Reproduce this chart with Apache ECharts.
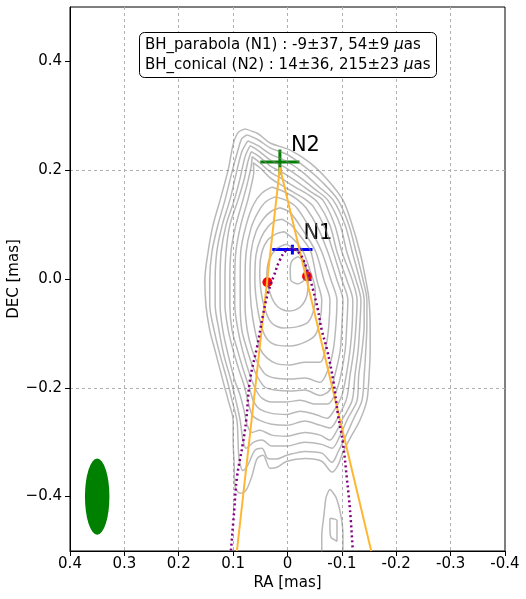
<!DOCTYPE html>
<html><head><meta charset="utf-8">
<script src="https://cdn.jsdelivr.net/npm/echarts@6/dist/echarts.min.js"></script>
<style>html,body{margin:0;padding:0;background:#fff}#c{width:526px;height:599px}</style>
</head><body><div id="c"></div>
<script>
// ---- tick labels ----
const xTicks = [0.4, 0.3, 0.2, 0.1, 0, -0.1, -0.2, -0.3, -0.4];
const yTicks = [-0.4, -0.2, 0, 0.2, 0.4];

// ---- intensity contours [RA, DEC] (mas), outer -> inner ----
const c0 = [[0.078,0.276],[0.054,0.267],[0.032,0.250],[-0.005,0.237],[-0.041,0.214],[-0.074,0.182],[-0.102,0.145],[-0.119,0.099],[-0.133,0.050],[-0.144,-0.002],[-0.150,-0.039],[-0.152,-0.094],[-0.152,-0.131],[-0.150,-0.177],[-0.146,-0.223],[-0.133,-0.260],[-0.115,-0.293],[-0.102,-0.318],[-0.093,-0.342],[-0.082,-0.355],[-0.063,-0.335],[-0.032,-0.330],[0.001,-0.335],[0.019,-0.346],[0.032,-0.348],[0.045,-0.324],[0.056,-0.330],[0.065,-0.361],[0.076,-0.388],[0.087,-0.394],[0.097,-0.379],[0.098,-0.342],[0.100,-0.296],[0.100,-0.260],[0.109,-0.223],[0.119,-0.186],[0.131,-0.140],[0.143,-0.094],[0.150,-0.048],[0.152,-0.002],[0.146,0.050],[0.137,0.099],[0.124,0.145],[0.109,0.201],[0.100,0.247],[0.091,0.269]];
const c1 = [[0.074,0.265],[0.054,0.256],[0.032,0.241],[-0.001,0.228],[-0.032,0.206],[-0.065,0.177],[-0.093,0.145],[-0.113,0.099],[-0.126,0.050],[-0.139,-0.002],[-0.146,-0.039],[-0.146,-0.085],[-0.144,-0.131],[-0.141,-0.177],[-0.137,-0.223],[-0.122,-0.256],[-0.108,-0.287],[-0.093,-0.318],[-0.082,-0.337],[-0.063,-0.320],[-0.032,-0.317],[0.001,-0.324],[0.021,-0.331],[0.036,-0.330],[0.047,-0.311],[0.060,-0.315],[0.073,-0.342],[0.082,-0.352],[0.089,-0.330],[0.091,-0.296],[0.093,-0.260],[0.102,-0.223],[0.111,-0.186],[0.124,-0.140],[0.135,-0.094],[0.143,-0.048],[0.143,-0.002],[0.139,0.050],[0.128,0.099],[0.115,0.145],[0.102,0.197],[0.091,0.237],[0.084,0.258]];
const c2 = [[0.073,0.254],[0.054,0.245],[0.032,0.230],[0.003,0.217],[-0.027,0.197],[-0.056,0.171],[-0.084,0.145],[-0.106,0.099],[-0.119,0.050],[-0.133,-0.002],[-0.141,-0.039],[-0.141,-0.085],[-0.137,-0.131],[-0.131,-0.177],[-0.128,-0.223],[-0.111,-0.256],[-0.097,-0.287],[-0.082,-0.311],[-0.063,-0.304],[-0.032,-0.300],[0.001,-0.307],[0.029,-0.307],[0.047,-0.296],[0.062,-0.300],[0.076,-0.311],[0.082,-0.296],[0.087,-0.260],[0.095,-0.223],[0.104,-0.186],[0.117,-0.140],[0.126,-0.094],[0.133,-0.048],[0.133,-0.002],[0.130,0.050],[0.120,0.099],[0.106,0.145],[0.095,0.191],[0.084,0.234]];
const c3 = [[0.069,0.245],[0.054,0.236],[0.032,0.219],[0.006,0.206],[-0.021,0.188],[-0.049,0.166],[-0.074,0.145],[-0.097,0.099],[-0.109,0.050],[-0.126,-0.002],[-0.135,-0.039],[-0.133,-0.085],[-0.130,-0.131],[-0.124,-0.177],[-0.119,-0.223],[-0.102,-0.256],[-0.089,-0.282],[-0.078,-0.296],[-0.060,-0.287],[-0.032,-0.282],[0.001,-0.289],[0.029,-0.287],[0.051,-0.278],[0.065,-0.282],[0.074,-0.269],[0.080,-0.241],[0.087,-0.214],[0.097,-0.186],[0.109,-0.140],[0.119,-0.094],[0.124,-0.048],[0.124,-0.002],[0.122,0.050],[0.113,0.099],[0.098,0.145],[0.087,0.186],[0.078,0.225]];
const c4 = [[0.067,0.234],[0.052,0.225],[0.032,0.208],[0.008,0.195],[-0.017,0.179],[-0.043,0.160],[-0.065,0.145],[-0.087,0.099],[-0.100,0.050],[-0.119,-0.002],[-0.128,-0.039],[-0.126,-0.085],[-0.122,-0.131],[-0.115,-0.177],[-0.109,-0.219],[-0.095,-0.250],[-0.078,-0.274],[-0.060,-0.269],[-0.032,-0.261],[0.001,-0.269],[0.029,-0.267],[0.051,-0.260],[0.065,-0.250],[0.073,-0.223],[0.080,-0.195],[0.089,-0.168],[0.100,-0.131],[0.109,-0.094],[0.115,-0.048],[0.115,-0.002],[0.113,0.050],[0.106,0.099],[0.091,0.145],[0.080,0.182],[0.073,0.215]];
const c5 = [[0.065,0.225],[0.051,0.214],[0.032,0.197],[0.010,0.184],[-0.014,0.169],[-0.038,0.155],[-0.056,0.140],[-0.078,0.099],[-0.091,0.050],[-0.109,-0.002],[-0.120,-0.039],[-0.119,-0.085],[-0.115,-0.131],[-0.108,-0.177],[-0.100,-0.214],[-0.086,-0.241],[-0.073,-0.256],[-0.051,-0.249],[-0.023,-0.243],[0.001,-0.249],[0.029,-0.247],[0.051,-0.239],[0.062,-0.226],[0.069,-0.204],[0.080,-0.171],[0.091,-0.134],[0.102,-0.094],[0.106,-0.048],[0.106,-0.002],[0.104,0.050],[0.095,0.099],[0.082,0.145],[0.073,0.179],[0.067,0.206]];
const c6 = [[0.063,0.214],[0.049,0.203],[0.032,0.186],[0.012,0.173],[-0.010,0.160],[-0.032,0.147],[-0.047,0.134],[-0.069,0.094],[-0.084,0.050],[-0.100,-0.002],[-0.111,-0.039],[-0.109,-0.085],[-0.106,-0.131],[-0.098,-0.177],[-0.089,-0.208],[-0.074,-0.230],[-0.052,-0.230],[-0.023,-0.223],[0.001,-0.226],[0.029,-0.226],[0.047,-0.219],[0.058,-0.204],[0.069,-0.177],[0.082,-0.134],[0.091,-0.094],[0.097,-0.048],[0.097,-0.002],[0.095,0.050],[0.086,0.099],[0.073,0.145],[0.065,0.179],[0.062,0.197]];
const c7 = [[0.029,0.169],[0.005,0.160],[-0.017,0.147],[-0.034,0.131],[-0.056,0.094],[-0.074,0.050],[-0.091,-0.002],[-0.102,-0.039],[-0.100,-0.085],[-0.097,-0.131],[-0.087,-0.177],[-0.078,-0.204],[-0.060,-0.214],[-0.032,-0.204],[-0.005,-0.206],[0.023,-0.204],[0.041,-0.199],[0.054,-0.182],[0.065,-0.158],[0.074,-0.131],[0.084,-0.094],[0.087,-0.048],[0.087,-0.002],[0.086,0.050],[0.076,0.099],[0.063,0.136],[0.047,0.158]];
const c8 = [[0.023,0.151],[0.001,0.144],[-0.017,0.131],[-0.043,0.090],[-0.063,0.050],[-0.080,-0.002],[-0.091,-0.039],[-0.089,-0.085],[-0.084,-0.131],[-0.074,-0.168],[-0.060,-0.190],[-0.032,-0.182],[-0.005,-0.184],[0.023,-0.182],[0.041,-0.175],[0.054,-0.156],[0.065,-0.131],[0.074,-0.094],[0.078,-0.048],[0.078,-0.002],[0.076,0.050],[0.067,0.094],[0.054,0.123],[0.040,0.142]];
const c9 = [[0.014,0.131],[-0.005,0.122],[-0.030,0.087],[-0.052,0.050],[-0.067,-0.002],[-0.078,-0.039],[-0.076,-0.085],[-0.071,-0.122],[-0.060,-0.153],[-0.032,-0.153],[-0.005,-0.158],[0.019,-0.156],[0.038,-0.145],[0.051,-0.127],[0.060,-0.094],[0.067,-0.048],[0.069,-0.002],[0.067,0.050],[0.058,0.087],[0.043,0.112],[0.029,0.125]];
const c10 = [[0.010,0.110],[-0.008,0.098],[-0.029,0.072],[-0.043,0.050],[-0.054,-0.002],[-0.063,-0.039],[-0.060,-0.075],[-0.051,-0.103],[-0.032,-0.116],[-0.005,-0.123],[0.017,-0.122],[0.036,-0.112],[0.047,-0.090],[0.056,-0.048],[0.060,-0.002],[0.058,0.044],[0.049,0.075],[0.036,0.096],[0.023,0.107]];
const c11 = [[0.006,0.087],[-0.012,0.072],[-0.029,0.050],[-0.041,0.017],[-0.051,-0.020],[-0.049,-0.053],[-0.038,-0.079],[-0.017,-0.088],[0.008,-0.090],[0.029,-0.081],[0.041,-0.057],[0.049,-0.020],[0.051,0.017],[0.047,0.050],[0.036,0.072],[0.021,0.083]];
const c12 = [[0.003,0.064],[-0.016,0.053],[-0.030,0.031],[-0.038,0.002],[-0.036,-0.029],[-0.023,-0.052],[-0.001,-0.059],[0.019,-0.050],[0.032,-0.026],[0.038,0.007],[0.034,0.035],[0.021,0.055]];
const c13 = [[-0.019,0.041],[-0.030,0.033],[-0.034,0.017],[-0.032,0.000],[-0.019,-0.009],[-0.006,-0.002],[-0.005,0.017],[-0.008,0.033]];
const contours = [c0, c1, c2, c3, c4, c5, c6, c7, c8, c9, c10, c11, c12, c13];
const islandOuter = [[-0.063,-0.503],[-0.063,-0.471],[-0.067,-0.434],[-0.071,-0.401],[-0.078,-0.387],[-0.089,-0.401],[-0.098,-0.434],[-0.102,-0.471],[-0.102,-0.503]];
const islandInner = [[-0.078,-0.440],[-0.091,-0.444],[-0.091,-0.482],[-0.080,-0.475],[-0.078,-0.457]];

// ---- jet-shape fits ----
const parabola = [[0.104,-0.499],[0.098,-0.425],[0.093,-0.365],[0.082,-0.302],[0.076,-0.260],[0.069,-0.186],[0.056,-0.125],[0.045,-0.066],[0.036,-0.026],[0.025,0.006],[0.014,0.035],[0.003,0.052],[-0.006,0.055],[-0.023,0.046],[-0.036,0.017],[-0.047,-0.020],[-0.056,-0.057],[-0.063,-0.094],[-0.073,-0.131],[-0.084,-0.186],[-0.093,-0.250],[-0.102,-0.302],[-0.109,-0.365],[-0.115,-0.425],[-0.120,-0.499]];
const coneLeft = [[0.014,0.205],[0.093,-0.5]];
const coneRight = [[0.014,0.205],[-0.154,-0.5]];
const redDots = [[0.037,-0.006],[-0.036,0.005]];

// ---- black-hole position estimates ----
const coreNames = ['N1', 'N2'];
const coreFits = ['BH_parabola', 'BH_conical'];
const coreRA = [-0.009, 0.014];
const coreDEC = [0.054, 0.215];
const coreRAErr = [0.037, 0.036];
const coreDECErr = [0.009, 0.023];
const coreColors = ['#0000ff', '#008000'];

// ---- beam ----
const beamCenter = [0.35, -0.4];
const beamWidth = 0.045;   // RA extent (mas)
const beamHeight = 0.14;   // DEC extent (mas)

const FONT = 'DejaVu Sans';
const uas = v => Math.round(v * 1000);
const boxLines = coreFits.map((f, i) =>
  `{a|${f} (${coreNames[i]}) : ${uas(coreRA[i])}±${uas(coreRAErr[i])}, ${uas(coreDEC[i])}±${uas(coreDECErr[i])} }{i|μ}{a|as}`).join('\n');

const chart = echarts.init(document.getElementById('c'), null, {renderer: 'canvas'});

const series = [];
contours.forEach(c => series.push({
  type: 'line', data: c.concat([c[0]]), smooth: 0.3, showSymbol: false, silent: true,
  lineStyle: {color: 'rgba(128,128,128,0.55)', width: 1.5}
}));
[islandOuter, islandInner.concat([islandInner[0]])].forEach(c => series.push({
  type: 'line', data: c, smooth: 0.2, showSymbol: false, silent: true,
  lineStyle: {color: 'rgba(128,128,128,0.55)', width: 1.5}
}));
[coneLeft, coneRight].forEach(c => series.push({
  type: 'line', data: c, showSymbol: false, silent: true,
  lineStyle: {color: '#ffb733', width: 2}
}));
series.push({
  type: 'line', data: parabola, smooth: 0.4, showSymbol: false, silent: true,
  lineStyle: {color: '#800080', width: 2.5, type: [2, 3]}
});
series.push({
  type: 'scatter', data: redDots, symbolSize: 10, itemStyle: {color: '#ff0000', opacity: 1, borderWidth: 0}, silent: true
});
series.push({
  type: 'custom', silent: true,
  data: coreNames.map((n, i) => [coreRA[i], coreDEC[i], coreRAErr[i], coreDECErr[i], i]),
  renderItem: (params, api) => {
    const x = api.value(0), y = api.value(1), ex = api.value(2), ey = api.value(3), i = api.value(4);
    const c = api.coord([x, y]);
    const l = api.coord([x + ex, y]), r = api.coord([x - ex, y]);
    const t = api.coord([x, y + ey]), b = api.coord([x, y - ey]);
    const col = coreColors[i];
    return {type: 'group', children: [
      {type: 'line', shape: {x1: l[0], y1: l[1], x2: r[0], y2: r[1]}, style: {stroke: col, lineWidth: 3}},
      {type: 'line', shape: {x1: t[0], y1: t[1], x2: b[0], y2: b[1]}, style: {stroke: col, lineWidth: 3}},
      {type: 'text', style: {text: coreNames[i], x: c[0] + 11, y: c[1] - 16, font: '21px ' + FONT, fill: '#000', verticalAlign: 'middle', align: 'left'}}
    ]};
  }
});
series.push({
  type: 'custom', silent: true,
  data: [[beamCenter[0], beamCenter[1], beamWidth, beamHeight]],
  renderItem: (params, api) => {
    const c = api.coord([api.value(0), api.value(1)]);
    const s = api.size([api.value(2), api.value(3)]);
    return {type: 'circle', x: c[0], y: c[1], scaleY: s[1] / s[0],
      shape: {cx: 0, cy: 0, r: s[0] / 2}, style: {fill: '#008000'}};
  }
});

const gridColor = '#b0b0b0';
chart.setOption({
  animation: false,
  backgroundColor: '#fff',
  title: {
    text: boxLines, left: 139, top: 30,
    borderColor: '#000', borderWidth: 1, borderRadius: 5, padding: [5, 6, 5, 6],
    backgroundColor: '#fff',
    textStyle: {fontWeight: 'normal', fontFamily: FONT, fontSize: 15, color: '#000', rich: {
      a: {fontFamily: FONT, fontSize: 15, fontWeight: 'normal', color: '#000', lineHeight: 20},
      i: {fontFamily: FONT, fontSize: 15, fontWeight: 'normal', color: '#000', lineHeight: 20, fontStyle: 'italic'}
    }}
  },
  grid: {left: 70, right: 21, top: 7, bottom: 48, show: true, borderColor: '#000', borderWidth: 1,
    backgroundColor: 'transparent', containLabel: false, outerBoundsMode: 'none'},
  xAxis: {
    type: 'value', inverse: true, min: -0.4, max: 0.4, interval: 0.1,
    name: 'RA [mas]', nameLocation: 'middle', nameGap: 25, nameMoveOverlap: false,
    nameTextStyle: {fontFamily: FONT, fontSize: 15, color: '#000'},
    axisLine: {show: true, onZero: false, lineStyle: {color: '#000', width: 1}},
    axisTick: {show: true, length: 5, lineStyle: {color: '#000'}},
    axisLabel: {fontFamily: FONT, fontSize: 15, color: '#000', margin: 6,
      formatter: v => Math.abs(v) < 1e-9 ? '0' : String(Math.round(v * 10) / 10)},
    splitLine: {show: true, showMinLine: false, showMaxLine: false, lineStyle: {color: gridColor, type: [3, 3], width: 1}}
  },
  yAxis: {
    type: 'value', min: -0.5, max: 0.5, interval: 0.1,
    name: 'DEC [mas]', nameLocation: 'middle', nameGap: 48, nameRotate: 90, nameMoveOverlap: false,
    nameTextStyle: {fontFamily: FONT, fontSize: 15, color: '#000'},
    axisLine: {show: true, onZero: false, lineStyle: {color: '#000', width: 1}},
    axisTick: {show: true, length: 5, customValues: yTicks, lineStyle: {color: '#000'}},
    axisLabel: {fontFamily: FONT, fontSize: 15, color: '#000', margin: 8, customValues: yTicks,
      formatter: v => { const s = Math.abs(v).toFixed(1); return v < -1e-9 ? '\u2212' + s : s; }},
    splitLine: {show: true, lineStyle: {color: ['rgba(0,0,0,0)', gridColor], type: [3, 3], width: 1}}
  },
  series
});
</script></body></html>
